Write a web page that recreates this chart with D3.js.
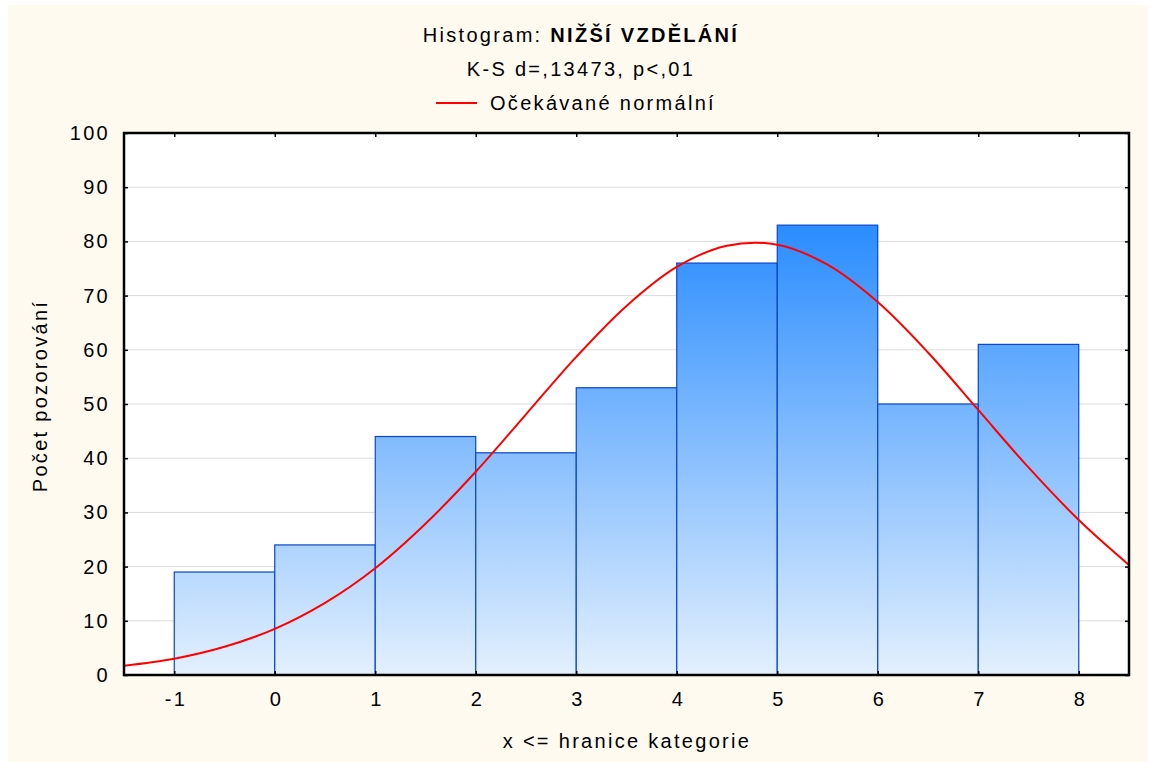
<!DOCTYPE html>
<html>
<head>
<meta charset="utf-8">
<script src="https://cdn.jsdelivr.net/npm/d3@7"></script>
<style>
  body { margin: 0; background: #fff; }
  text { font-family: "Liberation Sans", Arial, sans-serif; fill: #000; letter-spacing: 2.3px; }
</style>
</head>
<body>
<svg id="chart"></svg>
<script>
// histogram bins (upper bounds) and counts
var binEdges = [-1, 0, 1, 2, 3, 4, 5, 6, 7, 8];
var counts = [19, 24, 44, 41, 53, 76, 83, 50, 61];
// expected normal curve
var curveX = [-1.5, -1, -0.5, 0, 0.5, 1, 1.5, 2, 2.5, 3, 3.5, 4, 4.5, 5, 5.5, 6, 6.5, 7, 7.5, 8, 8.5];
var curveY = [1.7, 3.0, 5.2, 8.5, 13.3, 19.7, 27.9, 37.5, 48.1, 58.7, 68.1, 75.3, 79.2, 79.4, 75.7, 68.8, 59.5, 48.9, 38.3, 28.6, 20.3];
var xTicks = [-1, 0, 1, 2, 3, 4, 5, 6, 7, 8];
var yTicks = [0, 10, 20, 30, 40, 50, 60, 70, 80, 90, 100];

var width = 1153, height = 762;
var plot = { left: 124, right: 1129, top: 133, bottom: 675 };
var fontSize = 20;

var svg = d3.select("#chart")
  .attr("width", width)
  .attr("height", height);

// cream background
svg.append("rect")
  .attr("x", 8).attr("y", 5)
  .attr("width", 1140).attr("height", height - 5)
  .attr("fill", "#fffaf0");

var x = d3.scaleLinear().domain([-1.5, 8.5]).range([plot.left, plot.right]);
var y = d3.scaleLinear().domain([0, 100]).range([plot.bottom, plot.top]);

var defs = svg.append("defs");
var grad = defs.append("linearGradient")
  .attr("id", "barGrad")
  .attr("gradientUnits", "userSpaceOnUse")
  .attr("x1", 0).attr("x2", 0)
  .attr("y1", y(0)).attr("y2", y(83));
grad.append("stop").attr("offset", "0%").attr("stop-color", "#e3f0fd");
grad.append("stop").attr("offset", "100%").attr("stop-color", "#2a8cff");

defs.append("clipPath").attr("id", "plotClip")
  .append("rect")
  .attr("x", plot.left).attr("y", plot.top)
  .attr("width", plot.right - plot.left).attr("height", plot.bottom - plot.top);

// plot area
svg.append("rect")
  .attr("x", plot.left).attr("y", plot.top)
  .attr("width", plot.right - plot.left).attr("height", plot.bottom - plot.top)
  .attr("fill", "#fff");

// grid
svg.append("g")
  .selectAll("line")
  .data(yTicks.slice(1, -1))
  .enter().append("line")
  .attr("x1", plot.left).attr("x2", plot.right)
  .attr("y1", function(d){ return y(d); })
  .attr("y2", function(d){ return y(d); })
  .attr("stroke", "#dcdcdc")
  .attr("stroke-width", 1);

// bars
svg.append("g")
  .selectAll("rect")
  .data(counts)
  .enter().append("rect")
  .attr("x", function(d, i){ return x(binEdges[i]); })
  .attr("y", function(d){ return y(d); })
  .attr("width", function(d, i){ return x(binEdges[i + 1]) - x(binEdges[i]); })
  .attr("height", function(d){ return y(0) - y(d); })
  .attr("fill", "url(#barGrad)")
  .attr("stroke", "#0a46cc")
  .attr("stroke-width", 1.2);

// normal curve
var line = d3.line()
  .x(function(d, i){ return x(curveX[i]); })
  .y(function(d){ return y(d); })
  .curve(d3.curveCatmullRom);

svg.append("path")
  .datum(curveY)
  .attr("clip-path", "url(#plotClip)")
  .attr("d", line)
  .attr("fill", "none")
  .attr("stroke", "#ff0000")
  .attr("stroke-width", 2);

// axes, ticks pointing inward
var fmt = function(d){ return String(d); };
var axisStyle = function(g){
  g.select(".domain").remove();
  g.selectAll(".tick line").attr("stroke", "#000").attr("stroke-width", 1.5);
  g.selectAll(".tick text").style("font-size", fontSize + "px")
    .style("font-family", "'Liberation Sans', Arial, sans-serif");
};

svg.append("g")
  .attr("transform", "translate(0," + plot.bottom + ")")
  .call(d3.axisBottom(x).tickValues(xTicks).tickFormat(fmt).tickSizeInner(-4).tickPadding(17))
  .call(axisStyle)
  .selectAll(".tick text").attr("dx", "1.15px");

svg.append("g")
  .attr("transform", "translate(0," + plot.top + ")")
  .call(d3.axisTop(x).tickValues(xTicks).tickFormat("").tickSizeInner(-4))
  .call(axisStyle);

svg.append("g")
  .attr("transform", "translate(" + plot.left + ",0)")
  .call(d3.axisLeft(y).tickValues(yTicks).tickFormat(fmt).tickSizeInner(-4).tickPadding(14))
  .call(axisStyle);

svg.append("g")
  .attr("transform", "translate(" + plot.right + ",0)")
  .call(d3.axisRight(y).tickValues(yTicks).tickFormat("").tickSizeInner(-4))
  .call(axisStyle);

// frame
svg.append("rect")
  .attr("x", plot.left).attr("y", plot.top)
  .attr("width", plot.right - plot.left).attr("height", plot.bottom - plot.top)
  .attr("fill", "none")
  .attr("stroke", "#000")
  .attr("stroke-width", 2.5);

// titles
var title = svg.append("text")
  .attr("x", 581).attr("y", 42)
  .attr("text-anchor", "middle")
  .style("font-size", fontSize + "px");
title.append("tspan").text("Histogram: ");
title.append("tspan").attr("font-weight", "bold").text("NIŽŠÍ VZDĚLÁNÍ");

svg.append("text")
  .attr("x", 581).attr("y", 76)
  .attr("text-anchor", "middle")
  .style("font-size", fontSize + "px")
  .text("K-S d=,13473, p<,01");

// legend
svg.append("line")
  .attr("x1", 436).attr("x2", 477)
  .attr("y1", 103).attr("y2", 103)
  .attr("stroke", "#ff0000")
  .attr("stroke-width", 2);
svg.append("text")
  .attr("x", 490).attr("y", 110)
  .style("font-size", fontSize + "px")
  .text("Očekávané normální");

// axis labels
svg.append("text")
  .attr("x", 627).attr("y", 748)
  .attr("text-anchor", "middle")
  .style("font-size", fontSize + "px")
  .text("x <= hranice kategorie");

svg.append("text")
  .attr("transform", "translate(47,396) rotate(-90)")
  .attr("text-anchor", "middle")
  .style("font-size", fontSize + "px")
  .text("Počet pozorování");
</script>
</body>
</html>
